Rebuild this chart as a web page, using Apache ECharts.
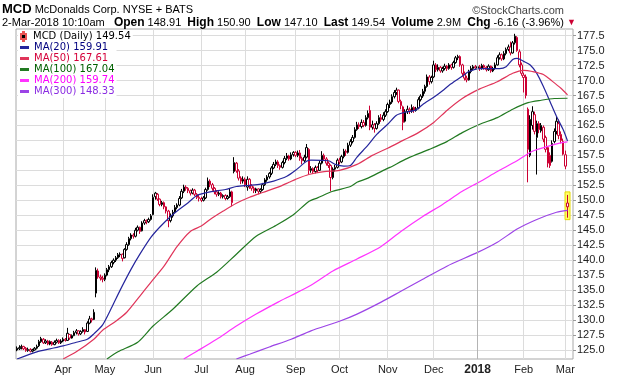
<!DOCTYPE html>
<html>
<head>
<meta charset="utf-8">
<script src="https://cdn.jsdelivr.net/npm/echarts@6/dist/echarts.min.js"></script>
<style>html,body{margin:0;padding:0;background:#fff}#main{width:620px;height:376px}</style>
</head>
<body>
<div id="main"></div>
<script>
// trading days shown: 3-Mar-2017 .. 2-Mar-2018
var firstDay = '2017-03-03', lastDay = '2018-03-02';
var holidays = ['2017-04-14','2017-05-29','2017-07-04','2017-09-04','2017-11-23','2017-12-25','2018-01-01','2018-01-15','2018-02-19'];
var monthNames = ['Jan','Feb','Mar','Apr','May','Jun','Jul','Aug','Sep','Oct','Nov','Dec'];
var yTicks = [125,127.5,130,132.5,135,137.5,140,142.5,145,147.5,150,152.5,155,157.5,160,162.5,165,167.5,170,172.5,175,177.5];

var quoteTime = '2-Mar-2018 10:10am';
var quoteLabels = ['Open','High','Low','Last','Volume','Chg'];
var quoteValues = ['148.91','150.90','147.10','149.54','2.9M','-6.16 (-3.96%)'];

// daily bars, [open, close, low, high]
var ohlc = [
 // Mar 2017
 [125.0,125.3,124.8,125.6],[125.2,125.4,125.0,125.8],[125.4,125.6,125.1,125.9],[125.6,125.2,125.0,125.7],
 [125.3,124.9,124.7,125.5],[124.9,125.1,124.7,125.4],[125.1,124.8,124.6,125.3],[124.8,125.0,124.6,125.2],
 [125.0,125.3,124.9,125.5],[125.3,125.6,125.1,125.9],[125.7,126.4,125.5,126.7],[126.4,126.9,126.2,127.2],
 [126.8,126.2,126.0,127.0],[126.2,126.5,126.0,126.8],[126.5,126.0,125.8,126.7],[126.0,126.4,125.8,126.6],
 [126.3,125.9,125.7,126.5],[125.9,126.3,125.8,126.6],[126.3,126.6,126.1,126.9],[126.6,126.2,126.0,126.8],
 [126.2,126.5,126.0,126.8],
 // Apr
 [126.5,126.8,126.3,127.1],[126.8,126.6,126.4,127.0],[126.6,127.8,126.5,128.7],[127.6,127.0,126.7,127.7],
 [127.0,127.4,126.9,127.6],[127.4,127.9,127.3,128.2],[127.9,128.2,127.6,128.5],[128.2,127.7,127.4,128.3],
 [127.7,128.1,127.5,128.3],[128.1,128.4,127.9,128.8],[128.4,128.0,127.6,128.5],[128.1,129.5,128.0,129.8],
 [129.5,130.2,129.3,130.7],[130.2,130.0,129.6,130.4],[130.1,131.3,130.0,131.8],[134.5,138.3,133.8,138.8],
 [138.2,137.2,136.9,138.6],[137.2,137.0,136.6,137.6],[137.0,136.8,136.3,137.4],
 // May
 [136.8,137.5,136.5,137.8],[137.5,138.4,137.3,138.7],[138.4,138.9,138.0,139.2],[138.9,139.6,138.7,139.9],
 [139.6,140.0,139.3,140.3],[140.0,140.4,139.7,140.7],[140.4,140.9,140.2,141.2],[140.9,141.0,140.5,141.3],
 [141.0,140.3,139.8,141.1],[140.4,141.8,140.3,142.0],[141.8,142.6,141.6,143.0],[142.6,143.6,142.4,143.9],
 [143.6,144.2,143.3,144.5],[144.2,144.0,143.6,144.5],[144.0,145.0,143.8,145.4],[145.0,145.5,144.8,145.8],
 [145.5,144.8,144.4,145.6],[144.9,146.2,144.8,146.5],[146.2,146.6,145.9,146.9],[146.6,146.4,146.0,146.8],
 [146.4,146.8,146.2,147.1],[146.8,147.4,146.6,147.7],
 // Jun
 [147.6,150.5,147.5,151.0],[150.6,151.2,150.1,151.4],[151.0,150.2,149.9,151.2],[150.2,149.3,149.0,150.3],
 [149.3,149.6,149.0,149.9],[149.6,148.9,148.5,149.8],[148.9,148.2,147.8,149.0],[148.2,146.6,145.5,148.4],
 [146.6,147.4,146.3,147.8],[147.4,148.0,147.1,148.4],[148.0,148.8,147.8,149.2],[148.8,149.2,148.5,149.5],
 [149.2,150.3,149.0,150.7],[150.4,151.5,150.2,151.9],[151.5,152.2,151.2,152.6],[152.2,152.0,151.6,152.5],
 [152.0,151.6,151.2,152.2],[151.6,151.2,150.8,151.8],[151.2,151.7,151.0,152.0],[151.7,151.0,150.7,151.9],
 [151.0,150.5,150.2,151.2],[150.5,150.3,149.8,150.9],
 // Jul
 [150.3,150.0,149.7,150.6],[150.0,150.4,149.8,150.7],[150.4,151.8,150.2,152.1],[151.8,153.2,151.6,153.8],
 [153.2,152.6,152.2,153.5],[152.6,152.0,151.6,152.9],[152.0,151.4,151.0,152.2],[151.4,151.0,150.6,151.7],
 [151.0,151.2,150.7,151.5],[151.2,150.6,150.3,151.4],[150.6,150.8,150.3,151.0],[150.8,150.3,150.0,151.0],
 [150.3,150.6,150.1,150.9],[150.6,151.4,150.4,152.0],[151.4,149.6,149.0,151.6],[154.8,156.3,154.5,157.2],
 [156.2,154.9,154.6,156.4],[154.9,153.7,153.3,155.2],[153.7,153.2,152.7,154.0],[153.2,153.5,152.8,154.0],
 // Aug
 [153.5,152.6,152.2,153.8],[152.2,153.5,151.6,154.0],[153.5,152.4,151.9,153.7],[152.4,152.0,151.6,152.7],
 [152.0,151.6,151.2,152.3],[151.6,151.9,151.2,152.1],[151.9,151.5,151.0,152.0],[151.5,151.8,151.2,152.0],
 [151.8,152.6,151.6,152.9],[152.6,153.4,152.4,153.7],[153.4,153.9,153.1,154.2],[153.9,154.5,153.6,154.7],
 [154.5,155.4,154.2,155.7],[155.4,156.0,155.2,156.4],[156.0,156.4,155.7,156.8],[156.4,155.8,155.4,156.7],
 [155.8,155.5,155.1,156.0],[155.5,156.3,155.3,156.6],[156.3,157.0,156.0,157.4],[157.0,157.4,156.7,157.9],
 [157.4,156.9,156.6,157.6],[156.9,157.6,156.7,158.0],[157.6,158.0,157.3,158.2],
 // Sep
 [158.0,157.5,157.2,158.2],[157.5,157.9,157.2,158.3],[157.9,157.0,156.6,158.4],[157.0,156.6,156.0,157.3],
 [156.6,157.2,156.3,157.6],[157.2,158.8,157.0,159.4],[158.5,155.0,154.3,158.7],[155.0,155.3,154.6,155.7],
 [155.3,154.8,154.4,155.5],[154.8,155.5,154.5,155.8],[155.5,155.0,154.6,155.7],[155.0,156.2,154.9,156.6],
 [156.2,157.5,156.0,158.2],[157.5,156.9,156.6,157.8],[156.9,156.2,155.8,157.2],[156.2,155.8,155.4,156.5],
 [155.8,153.8,151.5,156.0],[153.8,155.2,153.5,155.5],[155.2,155.5,154.8,155.9],[155.5,156.7,155.3,157.0],
 // Oct
 [156.7,156.4,156.0,157.1],[156.4,157.3,156.2,157.6],[157.3,158.2,157.0,158.6],[158.2,158.0,157.4,158.5],
 [158.0,159.2,157.8,159.6],[159.2,159.8,158.9,160.2],[159.8,160.5,159.5,160.9],[160.5,161.8,160.3,162.2],
 [161.8,162.6,161.6,163.1],[162.6,162.3,161.9,163.0],[162.3,163.0,162.0,163.5],[163.0,162.5,162.2,163.4],
 [162.5,163.8,162.3,164.2],[163.8,164.5,163.5,165.0],[165.0,162.2,161.7,165.8],[162.2,162.6,161.8,163.3],
 [162.6,162.0,161.3,162.9],[162.0,162.8,161.8,163.2],[162.8,163.8,162.6,164.2],[163.8,163.5,163.1,164.4],
 [163.5,164.2,163.2,164.7],[164.2,164.8,163.9,165.2],
 // Nov
 [164.8,166.0,164.6,166.3],[166.0,166.4,165.4,166.8],[166.4,167.3,166.1,167.7],[167.3,168.0,167.0,168.4],
 [168.0,168.4,167.6,168.8],[168.4,166.5,166.2,168.5],[166.5,165.8,165.2,166.8],[165.6,163.0,161.7,165.8],
 [163.2,164.8,163.0,165.2],[164.8,165.2,164.4,165.8],[165.2,164.9,164.4,165.5],[164.9,165.5,164.6,166.0],
 [165.5,165.0,164.6,165.7],[165.0,165.3,164.8,165.6],[165.4,166.8,165.2,167.2],[166.8,167.4,166.5,167.7],
 [167.4,168.2,167.1,168.6],[168.2,169.0,167.8,169.3],[169.0,170.6,168.8,171.0],[170.6,169.8,169.3,170.9],
 [169.8,170.5,169.5,170.8],
 // Dec
 [170.6,172.6,170.4,173.3],[172.6,171.8,171.4,172.9],[171.8,172.2,171.5,172.7],[172.2,171.6,171.3,172.4],
 [171.6,172.0,171.3,172.3],[172.0,172.4,171.7,172.8],[172.4,172.0,171.6,172.6],[172.0,172.6,171.8,172.9],
 [172.6,172.2,171.8,172.8],[172.2,173.0,172.0,173.3],[173.0,173.8,172.8,174.1],[173.8,174.0,173.4,174.3],
 [174.0,172.6,172.3,174.2],[172.6,171.2,170.7,172.8],[171.2,170.4,170.0,171.5],[170.4,170.1,169.7,170.8],
 [170.1,171.5,170.0,171.8],[171.5,172.0,171.2,172.4],[172.0,172.3,171.7,172.6],[172.3,172.1,171.8,172.6],
 // Jan 2018
 [172.1,172.3,171.6,172.7],[172.3,172.0,171.6,172.6],[172.0,172.5,171.8,172.8],[172.5,172.2,171.8,172.7],
 [172.2,171.8,171.5,172.4],[171.8,172.4,171.6,172.7],[172.4,171.6,171.3,172.5],[171.6,172.0,171.4,172.3],
 [172.0,172.6,171.8,173.0],[172.6,173.8,172.5,174.2],[173.8,174.3,173.5,174.7],[174.3,173.6,173.3,174.5],
 [173.6,174.5,173.4,174.9],[174.5,175.2,174.2,175.5],[175.2,175.6,174.9,176.0],[175.6,174.6,174.2,176.5],
 [174.6,176.3,174.5,176.6],[176.3,177.4,176.0,177.8],[177.2,175.0,174.8,177.4],[174.8,172.6,172.2,175.2],
 [172.6,171.2,170.8,173.0],
 // Feb
 [170.5,170.9,168.0,171.3],[170.6,167.5,167.0,171.0],[165.2,158.5,153.0,165.5],[157.5,163.5,157.2,164.2],
 [162.5,164.8,161.8,165.7],[164.3,161.5,161.0,164.8],[160.5,162.8,154.3,163.3],[162.8,161.8,161.2,163.2],
 [161.6,162.5,161.3,162.9],[162.2,160.2,159.7,162.5],[160.5,158.5,158.0,160.8],[158.8,156.2,155.5,159.0],
 [157.5,155.8,155.4,158.0],[156.5,159.5,156.3,160.0],[159.8,161.5,159.5,162.0],[161.5,163.2,161.0,164.0],
 [162.8,160.8,160.2,163.5],[161.0,160.0,159.5,161.5],[159.8,157.7,157.5,160.3],
 // Mar 2018
 [157.6,155.7,155.2,158.3],[148.91,149.54,147.10,150.90]
];

// moving averages: [day index, value]
var ma20 = [[0,123.5],[9,124.7],[15,125.2],[21,125.7],[27,126.3],[32,126.8],[35,127.7],[39,129.2],[43,132.0],[47,135.0],[52,138.5],[56,141.0],[61,143.8],[65,145.5],[70,147.3],[74,148.5],[78,149.6],[82,150.8],[88,151.4],[95,151.8],[100,152.3],[106,152.5],[111,152.7],[117,153.2],[123,154.0],[127,155.0],[132,156.5],[134,156.7],[142,156.6],[145,156.0],[149,155.7],[152,155.8],[155,157.2],[160,159.2],[164,161.0],[169,162.7],[173,164.2],[177,164.7],[182,165.1],[185,166.0],[190,167.2],[194,168.3],[197,169.2],[203,170.7],[206,171.5],[211,172.0],[220,172.0],[223,172.3],[226,173.5],[228,173.7],[231,173.2],[234,172.6],[237,171.2],[240,169.0],[243,166.5],[246,164.0],[249,161.8],[251,159.91]];
var ma50 = [[21,123.5],[27,124.7],[35,126.8],[39,128.3],[45,129.8],[50,131.3],[56,134.0],[61,136.3],[67,139.0],[73,142.3],[79,144.8],[84,145.7],[88,146.8],[94,148.2],[100,149.5],[106,150.5],[112,151.3],[119,152.2],[124,153.0],[127,153.5],[133,154.3],[140,154.8],[147,155.0],[155,156.0],[162,157.5],[169,158.7],[176,160.0],[183,161.3],[190,163.0],[196,165.0],[203,167.0],[211,168.6],[219,169.8],[226,171.2],[231,171.7],[235,171.5],[240,171.0],[244,169.9],[248,168.7],[251,167.61]];
var ma100 = [[41,123.5],[46,124.7],[55,126.3],[62,129.0],[71,131.8],[82,135.7],[91,138.0],[100,141.0],[109,144.0],[118,145.8],[126,147.6],[133,149.8],[137,150.4],[144,151.5],[152,152.3],[155,153.0],[160,153.7],[167,155.0],[170,155.5],[178,157.0],[188,158.5],[196,159.8],[203,161.3],[211,162.7],[219,163.8],[226,165.2],[233,166.3],[239,166.7],[245,167.0],[251,167.04]];
var ma200 = [[76,123.5],[82,124.8],[91,126.8],[100,129.0],[109,131.0],[119,133.0],[125,134.1],[134,135.8],[144,138.2],[155,140.2],[166,142.3],[175,144.8],[185,147.3],[194,149.3],[203,151.5],[211,153.1],[219,154.8],[228,156.6],[235,158.2],[242,159.0],[248,159.6],[251,159.74]];
var ma300 = [[100,123.5],[106,124.3],[115,125.5],[125,126.8],[134,128.2],[147,129.8],[155,131.0],[166,133.0],[175,134.8],[185,136.8],[196,139.0],[210,141.3],[219,143.0],[228,145.2],[237,146.8],[246,148.0],[251,148.33]];

var maNames = ['MA(20)','MA(50)','MA(100)','MA(200)','MA(300)'];
var maLines = [ma20, ma50, ma100, ma200, ma300];
var maColors = ['#25259c','#e0355a','#227a22','#ff33ff','#9c44e6'];
var maTextColors = ['#00007f','#d4003a','#006000','#ff00ff','#8a2be2'];
var maLast = ['159.91','167.61','167.04','159.74','148.33'];
var lastPrice = '149.54';

var F = "'Liberation Sans', Arial, sans-serif";
var RED = '#cc0033', BLACK = '#000';

// category dates
var dates = [];
var d = new Date(firstDay + 'T00:00:00Z'), end = new Date(lastDay + 'T00:00:00Z');
while (d <= end) {
    var s = d.toISOString().slice(0, 10), wd = d.getUTCDay();
    if (wd > 0 && wd < 6 && holidays.indexOf(s) < 0) dates.push(s);
    d.setUTCDate(d.getUTCDate() + 1);
}
var nDays = dates.length;
dates.push(' ', '  '); // small empty space at the right edge

var monthStart = {};
for (var i = 1; i < nDays; i++) {
    if (dates[i].slice(5, 7) !== dates[i - 1].slice(5, 7)) monthStart[i] = true;
}

// stockcharts style colouring: red when close is below previous close, hollow when close > open
var candleData = ohlc.map(function (b, k) {
    var col = (k > 0 && b[1] < ohlc[k - 1][1]) ? RED : BLACK;
    return {value: b, itemStyle: {color: '#fff', borderColor: col, color0: col, borderColor0: col}};
});

var line2 = quoteTime + '   ' + quoteLabels.map(function (l, k) {
    return '{b|' + l + '} ' + quoteValues[k];
}).join('  ') + ' {r|▼}';

var myChart = echarts.init(document.getElementById('main'));
var option = {
    animation: false,
    backgroundColor: '#fff',
    grid: {left: 16, right: 47, top: 29, bottom: 16, show: true, borderColor: '#a8a8a8', borderWidth: 1},
    graphic: [
        {id: 'h1', type: 'text', left: 2, top: 3, style: {
            text: '{t|MCD} McDonalds Corp. NYSE + BATS', fontFamily: F, fontSize: 11, fill: '#000',
            rich: {t: {fontWeight: 'bold', fontSize: 13, fontFamily: F}}}},
        {id: 'h2', type: 'text', right: 56, top: 5, style: {
            text: '©StockCharts.com', fontFamily: F, fontSize: 11, fill: '#444'}},
        {id: 'h3', type: 'text', left: 2, top: 17, style: {
            text: line2, fontFamily: F, fontSize: 11, fill: '#000',
            rich: {b: {fontWeight: 'bold', fontSize: 12, fontFamily: F}, r: {fill: RED, fontSize: 9}}}}
    ],
    legend: [{
        orient: 'vertical', left: 18, top: 30, itemGap: 0, itemWidth: 9, itemHeight: 9,
        padding: [1, 2, 0, 2], backgroundColor: '#fff', selectedMode: false,
        textStyle: {fontFamily: 'DejaVu Sans', fontSize: 10, color: '#000'},
        formatter: function (n) { return n + ' ' + lastPrice; },
        data: [{name: 'MCD (Daily)', icon: 'path://M4,0h1v2h2v5h-2v2h-1v-2h-2v-5h2z', itemStyle: {color: '#000'}}]
    }, {
        orient: 'vertical', left: 18, top: 42, itemGap: 0, itemWidth: 9, itemHeight: 3,
        padding: [0, 2, 1, 2], backgroundColor: '#fff', selectedMode: false,
        textStyle: {fontFamily: 'DejaVu Sans', fontSize: 10, lineHeight: 11},
        formatter: function (n) { return n + ' ' + maLast[maNames.indexOf(n)]; },
        data: maNames.map(function (n, k) {
            return {name: n, icon: 'rect', textStyle: {color: maTextColors[k]}};
        })
    }],
    xAxis: {
        type: 'category', data: dates, boundaryGap: true,
        axisLine: {show: false}, axisTick: {show: false},
        axisLabel: {
            interval: function (idx) { return !!monthStart[idx]; },
            formatter: function (v) {
                var m = +v.slice(5, 7);
                return m === 1 ? '{y|' + v.slice(0, 4) + '}' : monthNames[m - 1];
            },
            fontFamily: F, fontSize: 11, color: '#222', margin: 5,
            rich: {y: {fontWeight: 'bold', fontFamily: F, fontSize: 12, color: '#222'}}
        },
        splitLine: {show: true, alignWithLabel: true, interval: function (idx) { return !!monthStart[idx]; },
            lineStyle: {color: '#dcdcdc', width: 1}}
    },
    yAxis: {
        type: 'value', position: 'right', min: 123.5, max: 178.6,
        axisLine: {show: false},
        axisTick: {show: true, length: 3, customValues: yTicks, lineStyle: {color: '#999'}},
        axisLabel: {customValues: yTicks, formatter: function (v) { return v.toFixed(1); },
            fontFamily: F, fontSize: 11, color: '#222', margin: 4},
        splitLine: {show: true, lineStyle: {color: '#dcdcdc', width: 1}}
    },
    series: [{
        name: 'MCD (Daily)', type: 'candlestick', data: candleData, barWidth: 2, z: 2,
        itemStyle: {borderWidth: 1},
        markLine: {silent: true, symbol: 'none', label: {show: false},
            lineStyle: {color: '#b4b4b4', type: 'solid', width: 1},
            data: [{xAxis: dates[210]}]}
    }].concat(maLines.map(function (arr, k) {
        return {name: maNames[k], type: 'line', data: arr, showSymbol: false, smooth: 0.25, z: 3,
            lineStyle: {color: maColors[k], width: 1.2}, itemStyle: {color: maColors[k]}};
    }))
};
myChart.setOption(option);

// highlight box around the latest bar
var last = ohlc[nDays - 1];
var pHi = myChart.convertToPixel({gridIndex: 0}, [dates[nDays - 1], last[3]]);
var pLo = myChart.convertToPixel({gridIndex: 0}, [dates[nDays - 1], last[2]]);
myChart.setOption({graphic: [{id: 'lastBox', type: 'rect', z: 1,
    shape: {x: pHi[0] - 2.5, y: pHi[1] - 3, width: 5, height: pLo[1] - pHi[1] + 5},
    style: {fill: '#ffff66', stroke: '#e6d800', lineWidth: 1}}]});
</script>
</body>
</html>
